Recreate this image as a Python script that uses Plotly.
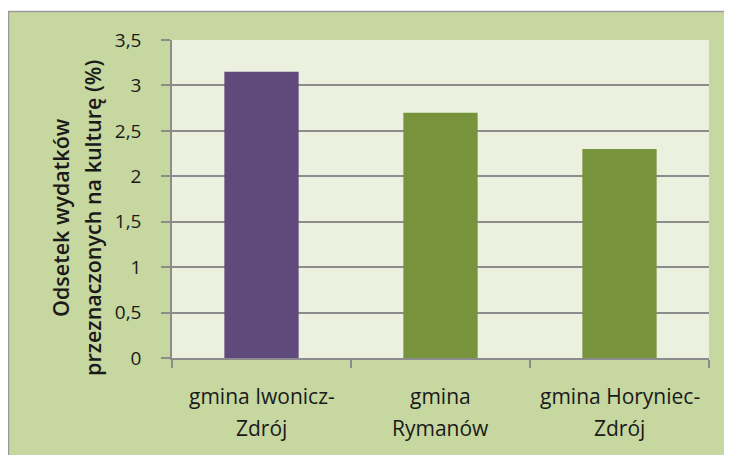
import plotly.graph_objects as go

categories = ["gmina Iwonicz-Zdrój", "gmina Rymanów", "gmina Horyniec-Zdrój"]
label_line1 = ["gmina Iwonicz-", "gmina", "gmina Horyniec-"]
label_line2 = ["Zdrój", "Rymanów", "Zdrój"]
values = [3.15, 2.7, 2.3]
bar_colors = ["#604a7b", "#77933c", "#77933c"]
y_ticks = [0, 0.5, 1, 1.5, 2, 2.5, 3, 3.5]
y_title_lines = ["Odsetek wydatków", "przeznaczonych na kulturę (%)"]

# page body has an 8px margin: screen = figure + 8
OFF = 8
W, H = 724, 447
SL, SR, ST, SB = 172, 709, 40, 358   # plot area in screen pixels
L, T = SL - OFF, ST - OFF
R = W - (SR - OFF)
B = H - (SB - OFF)
pw, ph = W - L - R, H - T - B

def px(x):
    return (x - SL) / pw

def py(y):
    return (SB - y) / ph

FONT = "Open Sans"
TXT = "#1a1a1a"
GRID = "#8c8c8c"

fig = go.Figure(go.Bar(
    x=categories, y=values, marker=dict(color=bar_colors, line=dict(width=0)),
    width=0.415,
))

shapes = [
    dict(type="rect", xref="paper", yref="paper", x0=px(-5), x1=px(W + 20), y0=py(-5), y1=py(11),
         fillcolor="white", line=dict(width=0), layer="above"),
    dict(type="line", xref="paper", yref="paper", x0=px(8), x1=px(W + 20), y0=py(11.5), y1=py(11.5),
         line=dict(color="#9a9a9a", width=1.5), layer="above"),
    dict(type="line", xref="paper", yref="paper", x0=px(8.5), x1=px(8.5), y0=py(11), y1=py(H + 20),
         line=dict(color="#9a9a9a", width=1.5), layer="above"),
]

annotations = []
for i, (a, b) in enumerate(zip(label_line1, label_line2)):
    annotations.append(dict(x=categories[i], y=py(396), xref="x", yref="paper", text=a,
                            showarrow=False, font=dict(family=FONT, size=21, color=TXT),
                            xanchor="center", yanchor="middle"))
    annotations.append(dict(x=categories[i], y=py(428), xref="x", yref="paper", text=b,
                            showarrow=False, font=dict(family=FONT, size=21, color=TXT),
                            xanchor="center", yanchor="middle"))
for xc, t in zip([60, 92], y_title_lines):
    annotations.append(dict(x=px(xc), y=py(218), xref="paper", yref="paper", text=t,
                            showarrow=False, textangle=-90,
                            font=dict(family=FONT, size=21.5, color=TXT, weight=600),
                            xanchor="center", yanchor="middle"))

fig.update_layout(
    width=W, height=H,
    margin=dict(l=L, r=R, t=T, b=B, pad=0),
    paper_bgcolor="#c6d7a0",
    plot_bgcolor="#ebf1de",
    separators=", ",
    showlegend=False,
    shapes=shapes,
    annotations=annotations,
    font=dict(family=FONT, size=19, color=TXT),
    xaxis=dict(
        type="category", showticklabels=False, tickson="boundaries",
        ticks="outside", ticklen=8, tickcolor=GRID, tickwidth=1.5,
        showline=True, linecolor=GRID, linewidth=1.5,
        showgrid=False, range=[-0.5, 2.5],
    ),
    yaxis=dict(
        range=[0, 3.5], tickvals=y_ticks, ticks="outside", ticklen=9,
        tickcolor=GRID, tickwidth=1.5,
        showline=True, linecolor=GRID, linewidth=1.5,
        showgrid=True, gridcolor=GRID, gridwidth=1.5,
        zeroline=False, ticklabelstandoff=16,
        tickfont=dict(family=FONT, size=19, color=TXT),
    ),
)

fig.write_html("out.html")
